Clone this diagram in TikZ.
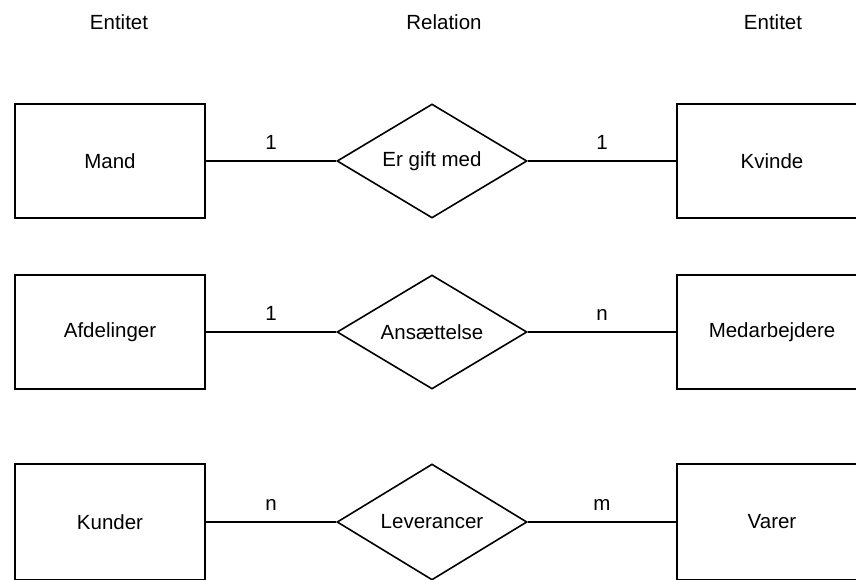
\documentclass[tikz,border=0pt]{standalone}
\usepackage{fontspec}
\setmainfont{Liberation Sans}
\usetikzlibrary{shapes.geometric}

\begin{document}
\begin{tikzpicture}[x=1pt, y=-1pt,
    font=\fontsize{20.5}{24}\selectfont,
    entity/.style={draw, line width=1.6pt, rectangle, minimum width=190pt,
                   minimum height=114pt, inner sep=0pt},
    relation/.style={draw, line width=1.6pt, diamond, aspect=1.667,
                     minimum width=190pt, minimum height=114pt, inner sep=0pt},
    lastrow/.style={minimum height=116pt},
    link/.style={line width=1.6pt},
    card/.style={midway, above=11pt, inner sep=0pt},
    heading/.style={anchor=base, inner sep=0pt}]

  \useasboundingbox (0,0) rectangle (856,579);
  \clip (0,0) rectangle (856,579);

  % column headings
  \node[heading] (h1) at (119,29) {Entitet};
  \node[heading] (h2) at (444,29) {Relation};
  \node[heading] (h3) at (773,29) {Entitet};

  % row 1
  \node[entity]   (mand)   at (110,161) {Mand};
  \node[relation] (gift)   at (432,161) {Er gift med};
  \node[entity]   (kvinde) at (772,161) {Kvinde};
  \draw[link] (mand) -- node[card] {1} (gift);
  \draw[link] (gift) -- node[card] {1} (kvinde);

  % row 2
  \node[entity]   (afd)  at (110,332) {Afdelinger};
  \node[relation] (ans)  at (432,332) {Ansættelse};
  \node[entity]   (med)  at (772,332) {Medarbejdere};
  \draw[link] (afd) -- node[card] {1} (ans);
  \draw[link] (ans) -- node[card] {n} (med);

  % row 3 (runs off the lower edge)
  \node[entity, lastrow]   (kunder) at (110,522) {Kunder};
  \node[relation, lastrow] (lev)    at (432,522) {Leverancer};
  \node[entity, lastrow]   (varer)  at (772,522) {Varer};
  \draw[link] (kunder) -- node[card] {n} (lev);
  \draw[link] (lev) -- node[card] {m} (varer);
\end{tikzpicture}
\end{document}
